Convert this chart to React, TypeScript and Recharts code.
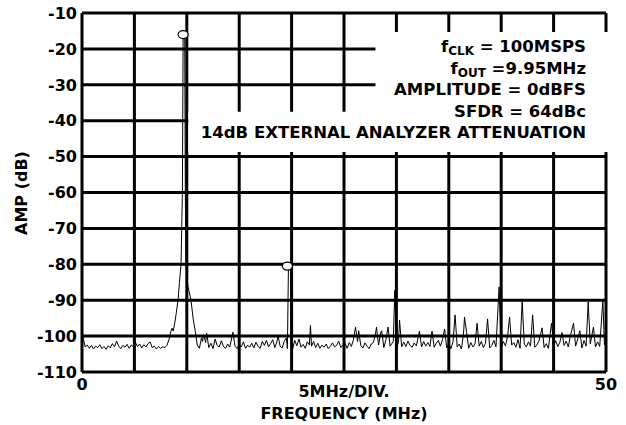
import {
  LineChart,
  Line,
  XAxis,
  YAxis,
  CartesianGrid,
  ReferenceArea,
  ReferenceDot,
  Label,
} from 'recharts';

const FONT = '"DejaVu Sans", sans-serif';

// 5MHz per division, only the ends and the middle carry text
const X_TICKS = [0, 5, 10, 15, 20, 25, 30, 35, 40, 45, 50];
const X_TICK_TEXT: Record<number, string> = { 0: '0', 25: '5MHz/DIV.', 50: '50' };
const Y_TICKS = [-110, -100, -90, -80, -70, -60, -50, -40, -30, -20, -10];

// [frequency MHz, amplitude dB]
const TRACE: [number, number][] = [
  [0, -98.5], [0.15, -101], [0.3, -103], [0.5, -102.5], [0.7, -103.4], [0.9, -102.6],
  [1.1, -103.6], [1.3, -102.8], [1.5, -103.2], [1.7, -102.4], [1.9, -103.5], [2.1, -102.9],
  [2.3, -103.7], [2.5, -102.7], [2.7, -103.3], [2.9, -102.1], [3.1, -103.0], [3.3, -101.4],
  [3.5, -102.8], [3.7, -103.5], [3.9, -102.6], [4.1, -103.1], [4.3, -102.3], [4.5, -103.4],
  [4.7, -102.5], [4.9, -103.0], [5.1, -101.8], [5.3, -102.9], [5.5, -102.2], [5.7, -103.3],
  [5.9, -102.4], [6.1, -103.0], [6.3, -102.1], [6.5, -101.6], [6.7, -103.2], [6.9, -102.8],
  [7.1, -103.6], [7.3, -102.9], [7.5, -103.4], [7.7, -103.0], [7.9, -103.2], [8.1, -102.6],
  [8.3, -101.0], [8.5, -98.5], [8.6, -97.8], [8.7, -98.6], [8.8, -97.2], [9.0, -93.5],
  [9.16, -90], [9.3, -85], [9.45, -80], [9.58, -60], [9.65, -16], [9.8, -16],
  [9.86, -60], [9.92, -80], [10.1, -86], [10.4, -90], [10.6, -95], [10.8, -98.5],
  [11.0, -102.5], [11.2, -103.4], [11.4, -100.5], [11.5, -101.5], [11.6, -99.6], [11.8, -101.8],
  [11.9, -99.2], [12.1, -103.2], [12.3, -102.0], [12.5, -103.5], [12.7, -100.8], [12.9, -102.6],
  [13.1, -103.0], [13.3, -101.3], [13.5, -102.9], [13.7, -103.4], [13.9, -102.2], [14.1, -103.1],
  [14.4, -98.9], [14.6, -102.8], [14.8, -103.5], [15.0, -102.3], [15.2, -103.0], [15.4, -101.6],
  [15.6, -103.4], [15.8, -102.5], [16.0, -103.1], [16.2, -102.0], [16.4, -103.3], [16.6, -101.7],
  [16.8, -102.9], [17.0, -103.4], [17.2, -101.5], [17.4, -102.6], [17.6, -101.2], [17.8, -103.0],
  [18.0, -102.1], [18.2, -101.0], [18.4, -103.2], [18.6, -101.6], [18.7, -99.7], [18.9, -102.8],
  [19.1, -103.3], [19.3, -101.4], [19.5, -100.5], [19.6, -103.5], [19.7, -80.3], [19.9, -80.3],
  [19.95, -103.0], [20.1, -103.6], [20.3, -101.2], [20.5, -102.7], [20.7, -100.8], [20.9, -103.1],
  [21.1, -102.3], [21.3, -103.4], [21.5, -101.6], [21.7, -102.5], [21.8, -97.0], [21.9, -102.8],
  [22.1, -101.5], [22.3, -103.2], [22.5, -102.0], [22.7, -103.4], [22.9, -102.5], [23.1, -103.1],
  [23.3, -102.2], [23.5, -103.5], [23.7, -102.8], [23.9, -101.9], [24.1, -103.0], [24.3, -102.6],
  [24.5, -101.4], [24.7, -103.2], [24.9, -102.4], [25.1, -102.0], [25.3, -103.4], [25.5, -101.8],
  [25.7, -102.9], [25.9, -101.0], [26.1, -97.5], [26.3, -101.5], [26.4, -98.5], [26.6, -102.6],
  [26.8, -103.3], [27.0, -101.9], [27.2, -102.8], [27.4, -103.5], [27.6, -102.2], [27.8, -101.8],
  [28.0, -99.5], [28.1, -97.5], [28.3, -102.5], [28.5, -99.0], [28.6, -98.5], [28.8, -103.2],
  [29.0, -101.0], [29.2, -97.5], [29.4, -102.8], [29.7, -101.5], [29.85, -87.2], [30.0, -103.4],
  [30.2, -101.8], [30.3, -95.5], [30.5, -103.0], [30.7, -101.7], [30.9, -102.9], [31.1, -101.4],
  [31.3, -102.6], [31.5, -103.1], [31.7, -101.9], [31.9, -102.7], [32.2, -98.6], [32.4, -103.0],
  [32.6, -101.5], [32.8, -102.8], [33.0, -101.8], [33.2, -102.9], [33.4, -98.6], [33.6, -103.1],
  [33.8, -102.0], [34.0, -101.2], [34.2, -102.8], [34.4, -101.0], [34.6, -98.0], [34.8, -103.3],
  [35.0, -102.0], [35.2, -103.5], [35.4, -101.6], [35.6, -94.1], [35.8, -103.0], [36.0, -102.2],
  [36.2, -103.6], [36.4, -99.5], [36.5, -94.7], [36.7, -99.0], [36.9, -103.4], [37.1, -101.8],
  [37.3, -103.0], [37.5, -102.2], [37.7, -96.4], [37.9, -102.8], [38.1, -101.5], [38.3, -103.2],
  [38.5, -102.0], [38.7, -95.2], [38.9, -103.3], [39.1, -102.6], [39.3, -101.2], [39.5, -103.0],
  [39.8, -86.3], [40.0, -103.2], [40.2, -101.5], [40.4, -102.7], [40.6, -100.2], [40.8, -94.7],
  [41.0, -102.5], [41.2, -101.8], [41.4, -103.1], [41.6, -101.0], [41.8, -103.4], [42.0, -90.2],
  [42.2, -102.2], [42.4, -103.0], [42.6, -101.6], [42.8, -102.8], [43.0, -94.1], [43.2, -103.1],
  [43.4, -102.5], [43.6, -101.4], [43.9, -97.7], [44.1, -103.2], [44.3, -102.1], [44.5, -103.4],
  [44.8, -96.4], [45.0, -102.6], [45.2, -101.3], [45.4, -102.9], [45.6, -101.7], [45.8, -99.0],
  [46.0, -102.6], [46.2, -101.4], [46.4, -103.0], [46.6, -100.0], [46.9, -96.4], [47.1, -102.8],
  [47.3, -100.8], [47.5, -98.5], [47.7, -103.3], [47.9, -101.2], [48.1, -102.8], [48.3, -90.5],
  [48.5, -102.2], [48.8, -97.5], [49.0, -103.0], [49.2, -101.6], [49.4, -102.9], [49.7, -90.0],
  [49.85, -102.5], [50.0, -100.0],
];

// fundamental and largest spur
const MARKERS: [number, number][] = [
  [9.65, -16],
  [19.6, -80.5],
];

const data = TRACE.map(([f, amp]) => ({ f, amp }));

const textStyle = { fontFamily: FONT, fontWeight: 700, fontSize: 16, fill: '#000' };
const noteStyle = { ...textStyle, fontSize: 16.5 };

function XTick({ x, payload }: any) {
  const label = X_TICK_TEXT[payload.value];
  if (!label) return null;
  const y = payload.value === 25 ? 397 : 390;
  return (
    <text x={x} y={y} textAnchor="middle" {...textStyle}>
      {label}
    </text>
  );
}

function YTick({ y, payload }: any) {
  return (
    <text x={77} y={y} dy="0.36em" textAnchor="end" {...textStyle}>
      {payload.value}
    </text>
  );
}

function Notes() {
  return (
    <g>
      <text x={586} y={52} textAnchor="end" {...noteStyle}>
        f<tspan fontSize={12} dy={3}>CLK</tspan>
        <tspan dy={-3}> = 100MSPS</tspan>
      </text>
      <text x={586} y={74} textAnchor="end" {...noteStyle}>
        f<tspan fontSize={12} dy={3}>OUT</tspan>
        <tspan dy={-3}> =9.95MHz</tspan>
      </text>
      <text x={586} y={95} textAnchor="end" {...noteStyle}>
        AMPLITUDE = 0dBFS
      </text>
      <text x={586} y={117} textAnchor="end" {...noteStyle}>
        SFDR = 64dBc
      </text>
      <text x={586} y={138} textAnchor="end" {...noteStyle}>
        14dB EXTERNAL ANALYZER ATTENUATION
      </text>
    </g>
  );
}

export default function App() {
  return (
    <div style={{ position: 'absolute', left: 0, top: 0, background: '#fff' }}>
      <LineChart
        width={626}
        height={425}
        data={data}
        margin={{ top: 13, right: 20, bottom: 0, left: 8 }}
      >
        <CartesianGrid stroke="#000" strokeWidth={3} />
        <XAxis
          type="number"
          dataKey="f"
          domain={[0, 50]}
          ticks={X_TICKS}
          interval={0}
          height={53}
          axisLine={false}
          tickLine={false}
          tick={<XTick />}
        >
          <Label
            content={() => (
              <text x={344} y={419} textAnchor="middle" {...textStyle}>
                FREQUENCY (MHz)
              </text>
            )}
          />
        </XAxis>
        <YAxis
          type="number"
          domain={[-110, -10]}
          ticks={Y_TICKS}
          interval={0}
          width={74}
          axisLine={false}
          tickLine={false}
          tick={<YTick />}
        >
          <Label
            content={() => (
              <text
                x={21}
                y={193}
                transform="rotate(-90 21 193)"
                textAnchor="middle"
                dominantBaseline="central"
                {...textStyle}
              >
                AMP (dB)
              </text>
            )}
          />
        </YAxis>
        <ReferenceArea
          x1={28}
          x2={50.3}
          y1={-37.6}
          y2={-15.3}
          fill="#fff"
          fillOpacity={1}
          stroke="none"
          ifOverflow="visible"
        />
        <ReferenceArea
          x1={10.15}
          x2={50.3}
          y1={-48.7}
          y2={-37.5}
          fill="#fff"
          fillOpacity={1}
          stroke="none"
          ifOverflow="visible"
        >
          <Label content={() => <Notes />} />
        </ReferenceArea>
        <Line
          type="linear"
          dataKey="amp"
          stroke="#000"
          strokeWidth={1}
          dot={false}
          isAnimationActive={false}
        />
        {MARKERS.map(([f, amp]) => (
          <ReferenceDot
            key={f}
            x={f}
            y={amp}
            r={4}
            ifOverflow="visible"
            shape={(p: any) => (
              <ellipse cx={p.cx} cy={p.cy} rx={5} ry={4} fill="#fff" stroke="#000" strokeWidth={1.2} />
            )}
          />
        ))}
      </LineChart>
    </div>
  );
}
